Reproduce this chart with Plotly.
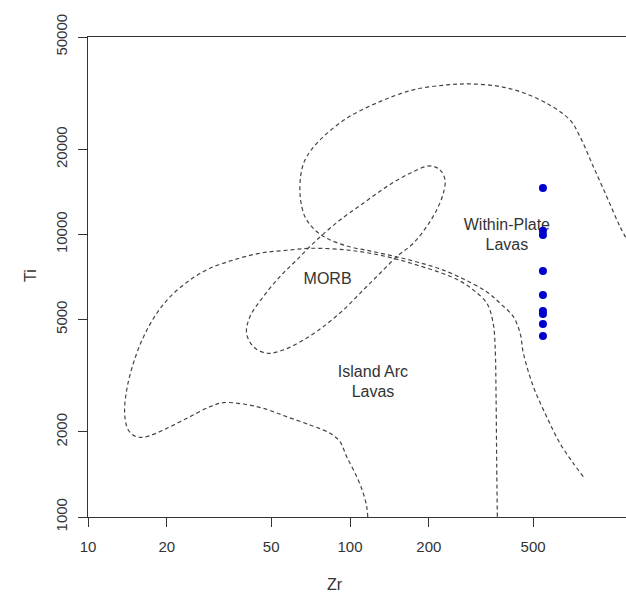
import math
import plotly.graph_objects as go

# ---- data (Zr, Ti in ppm) ----
sample_zr = [545, 545, 545, 545, 545, 545, 545, 545, 545]
sample_ti = [14600, 10300, 9960, 7420, 6110, 5360, 5230, 4820, 4370]

within_plate_zr = [777, 712, 633, 563, 501, 459, 446, 420, 374, 333, 271, 221, 180, 146, 119,
                   97.1, 81.5, 73.5, 67.3, 64.5, 65.4, 68.4, 76.8, 97.1, 130, 174, 234, 287, 363,
                   446, 563, 691, 755, 849, 955, 1073, 1171]
within_plate_ti = [1389, 1549, 1823, 2265, 2893, 3798, 4469, 5117, 5707, 6260, 6958, 7548, 7993,
                   8392, 8743, 9107, 9694, 10370, 11560, 13800, 16920, 18860, 21600, 25780, 29520,
                   32480, 33830, 34100, 33550, 32030, 29130, 25430, 22190, 17380, 13610, 10660, 9180]

island_arc_zr = [116.9, 115.8, 112.4, 106.1, 97.1, 91.6, 83.9, 70.4, 57.3, 46.7, 39.1, 32.8, 29.2,
                 24.5, 20.0, 16.7, 15.3, 14.25, 13.8, 14.05, 14.9, 16.3, 18.3, 20.6, 24.5, 29.2,
                 35.9, 45.3, 57.3, 72.4, 97.1, 119.2, 146.4, 179.7, 220.6, 263, 295.5, 333, 352,
                 358, 361, 363, 365]
island_arc_ti = [1000, 1088, 1213, 1389, 1635, 1847, 1978, 2117, 2265, 2425, 2512, 2539, 2457,
                 2265, 2061, 1924, 1924, 2032, 2328, 2815, 3501, 4347, 5262, 6024, 6901, 7592,
                 8123, 8581, 8793, 8937, 8813, 8581, 8238, 7798, 7336, 6845, 6361, 5707, 4850,
                 4008, 2667, 1549, 1000]

morb_zr = [202, 220.6, 230.5, 227.1, 214.2, 196.1, 174.4, 150.8, 130.2, 112.4, 94.3, 79.1, 66.4,
           55.6, 48.1, 42.8, 40.3, 41.5, 46.7, 54.0, 62.6, 74.6, 91.6, 112.4, 138.1, 169.4, 202]
morb_ti = [17480, 16920, 15590, 13990, 12210, 10660, 9307, 8345, 7289, 6361, 5404, 4717, 4232,
           3901, 3798, 4008, 4469, 5117, 6024, 7089, 8123, 9561, 11250, 12900, 14770, 16470, 17480]

field_labels = ["Within-Plate<br>Lavas", "MORB", "Island Arc<br>Lavas"]
label_zr = [397, 82.1, 122.4]
label_ti = [9880, 6901, 2981]

x_ticks = [10, 20, 50, 100, 200, 500]
y_ticks = [1000, 2000, 5000, 10000, 20000, 50000]

FONT = "Liberation Sans, Arial, sans-serif"
DASH = dict(color="#444444", width=1.2, dash="4px,3px", shape="spline", smoothing=1.0)

fig = go.Figure()
for xs, ys, name in [(within_plate_zr, within_plate_ti, "Within-Plate"),
                     (island_arc_zr, island_arc_ti, "Island Arc"),
                     (morb_zr, morb_ti, "MORB")]:
    fig.add_trace(go.Scatter(x=xs, y=ys, mode="lines", line=DASH, name=name,
                             hoverinfo="skip", showlegend=False))

fig.add_trace(go.Scatter(x=label_zr, y=label_ti, mode="text", text=field_labels,
                         textposition="middle center",
                         textfont=dict(family=FONT, size=16, color="#333333"),
                         hoverinfo="skip", showlegend=False))

fig.add_trace(go.Scatter(x=sample_zr, y=sample_ti, mode="markers",
                         marker=dict(color="#0000cd", size=8, line=dict(width=0)),
                         showlegend=False, name="samples"))

axis_common = dict(type="log", showgrid=False, zeroline=False, showline=True,
                   linecolor="#333333", linewidth=1, ticks="outside", ticklen=9,
                   tickcolor="#333333", tickwidth=1,
                   tickfont=dict(family=FONT, size=15, color="#333333"))

fig.update_layout(
    width=626, height=594, autosize=False,
    margin=dict(l=88, r=0, t=37, b=77),
    paper_bgcolor="white", plot_bgcolor="white",
    xaxis=dict(range=[1, 1 + 538 / 262], tickvals=x_ticks, ticklabelstandoff=7,
               ticktext=[str(v) for v in x_ticks], mirror=True, **axis_common),
    yaxis=dict(range=[3, math.log10(50000)], tickvals=y_ticks, ticklabelstandoff=5,
               ticktext=[str(v) for v in y_ticks], tickangle=-90, mirror=False, **axis_common),
    annotations=[
        dict(text="Zr", xref="paper", yref="paper", x=(335 - 88) / 538, y=-(584 - 517) / 480,
             showarrow=False, xanchor="center", yanchor="middle",
             font=dict(family=FONT, size=16, color="#333333")),
        dict(text="Ti", xref="paper", yref="paper", x=-(88 - 30) / 538, y=0.5 - (276 - 277) / 480,
             showarrow=False, xanchor="center", yanchor="middle", textangle=-90,
             font=dict(family=FONT, size=16, color="#333333")),
    ],
)

fig.write_html("out.html", config={"displayModeBar": False},
               post_script="document.body.style.margin='0';document.body.style.overflow='hidden';")
